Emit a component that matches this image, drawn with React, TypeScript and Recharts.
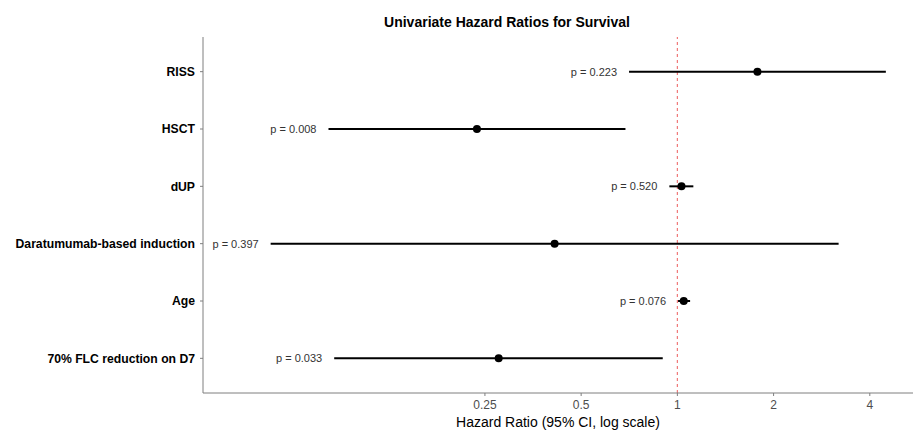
import React from "react";
import {
  ErrorBar,
  ReferenceLine,
  Scatter,
  ScatterChart,
  XAxis,
  YAxis,
} from "recharts";

const variables = [
  "RISS",
  "HSCT",
  "dUP",
  "Daratumumab-based induction",
  "Age",
  "70% FLC reduction on D7",
];
const hazardRatio = [1.78, 0.236, 1.03, 0.413, 1.047, 0.276];
const ciLower = [0.706, 0.081, 0.944, 0.0534, 1.005, 0.0844];
const ciUpper = [4.49, 0.688, 1.122, 3.195, 1.096, 0.9];
const pValues = ["0.223", "0.008", "0.520", "0.397", "0.076", "0.033"];
const xTicks = [0.25, 0.5, 1, 2, 4];

// plotted on a log2 axis, labels turned back into ratios
const lg = (v: number) => Math.log2(v);
const X_DOMAIN = [lg(0.0328), lg(5.46)];

const rows = variables.map((name, i) => ({
  name,
  hr: lg(hazardRatio[i]),
  low: lg(ciLower[i]),
  ci: [lg(hazardRatio[i]) - lg(ciLower[i]), lg(ciUpper[i]) - lg(hazardRatio[i])],
  p: pValues[i],
}));

const FONT = "'Liberation Sans', Arial, sans-serif";
const AXIS = "#7f7f7f";

const Dot = (props: any) => <circle cx={props.cx} cy={props.cy} r={4} fill="#000" />;

const PLabel = (props: any) => (
  <text
    x={props.cx - 12}
    y={props.cy}
    textAnchor="end"
    dominantBaseline="central"
    fontSize={11}
    fontFamily={FONT}
    fill="#333"
  >
    p = {props.payload.p}
  </text>
);

const DashedRed = (props: any) => (
  <line
    x1={props.x1}
    y1={props.y1}
    x2={props.x2}
    y2={props.y2}
    stroke="#f07878"
    strokeWidth={1.2}
    strokeDasharray="3 3"
  />
);

export default function App() {
  return (
    <div style={{ position: "absolute", left: 0, top: 0, background: "#fff" }}>
      <ScatterChart
        width={913}
        height={431}
        margin={{ top: 37, right: 0, bottom: 0, left: 0 }}
      >
        <text
          x={507}
          y={22}
          textAnchor="middle"
          dominantBaseline="central"
          fontSize={14}
          fontWeight="bold"
          fontFamily={FONT}
          fill="#000"
        >
          Univariate Hazard Ratios for Survival
        </text>
        <XAxis
          xAxisId="hr"
          dataKey="hr"
          type="number"
          domain={X_DOMAIN}
          allowDataOverflow
          ticks={xTicks.map(lg)}
          tickFormatter={(v) => String(Math.round(Math.pow(2, v) * 100) / 100)}
          height={38}
          tickSize={3}
          tickMargin={4}
          stroke={AXIS}
          tick={{ fill: "#4d4d4d", fontSize: 12, fontFamily: FONT }}
          label={{
            value: "Hazard Ratio (95% CI, log scale)",
            position: "insideBottom",
            offset: 4,
            fill: "#000",
            fontSize: 14,
            fontFamily: FONT,
          }}
        />
        <XAxis
          xAxisId="low"
          dataKey="low"
          type="number"
          domain={X_DOMAIN}
          allowDataOverflow
          hide
        />
        <YAxis
          type="category"
          dataKey="name"
          allowDuplicatedCategory={false}
          reversed
          width={203}
          tickSize={3}
          tickMargin={5}
          padding={{ top: 6, bottom: 6 }}
          stroke={AXIS}
          tick={{ fill: "#000", fontSize: 12.2, fontWeight: "bold", fontFamily: FONT }}
        />
        <ReferenceLine xAxisId="hr" x={0} shape={DashedRed} />
        <Scatter
          xAxisId="low"
          data={rows}
          dataKey="low"
          shape={PLabel}
          isAnimationActive={false}
        />
        <Scatter xAxisId="hr" data={rows} dataKey="hr" shape={Dot} isAnimationActive={false}>
          <ErrorBar
            dataKey="ci"
            direction="x"
            width={0}
            stroke="#000"
            strokeWidth={2}
            isAnimationActive={false}
          />
        </Scatter>
      </ScatterChart>
    </div>
  );
}
